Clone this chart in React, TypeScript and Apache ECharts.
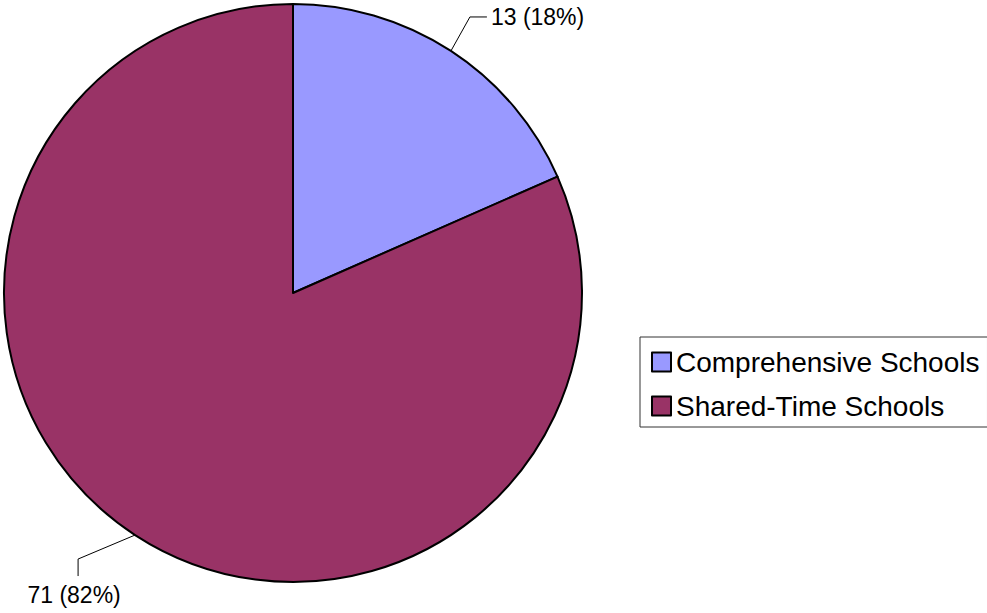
import React, { useEffect, useRef } from "react";
import * as echarts from "echarts";

const categories = ["Comprehensive Schools", "Shared-Time Schools"];
const counts = [13, 71];
const percents = [18, 82];
// slice shares as drawn in the picture
const shares = [18.4, 81.6];
const colors = ["#9999FF", "#993366"];

export default function App() {
  const ref = useRef<HTMLDivElement>(null);
  useEffect(() => {
    document.body.style.margin = "0";
    const chart = echarts.init(ref.current!, undefined, { renderer: "svg" });
    const font = "'Liberation Sans', Arial, sans-serif";
    chart.setOption({
      animation: false,
      backgroundColor: "#fff",
      legend: {
        orient: "vertical",
        left: 640,
        top: 337,
        padding: [10, 8, 6, 11],
        itemGap: 14,
        itemWidth: 19,
        itemHeight: 19,
        borderColor: "#333",
        borderWidth: 1,
        icon: "rect",
        itemStyle: { borderColor: "#000", borderWidth: 2 },
        textStyle: { fontFamily: font, fontSize: 28, color: "#000", lineHeight: 30 },
        data: categories,
      },
      series: [
        {
          type: "pie",
          center: [293, 293],
          radius: 289,
          startAngle: 90,
          clockwise: true,
          itemStyle: { borderColor: "#000", borderWidth: 2 },
          label: {
            show: true,
            position: "outside",
            alignTo: "none",
            overflow: "none",
            width: 200,
            fontFamily: font,
            fontSize: 23,
            color: "#000",
            formatter: (p: any) => `${counts[p.dataIndex]} (${percents[p.dataIndex]}%)`,
          },
          labelLine: { show: true, length: 40, length2: 18, lineStyle: { color: "#000", width: 1 } },
          labelLayout: (params: any) => {
            const pts = params.labelLinePoints;
            if (!pts) return {};
            const s = pts[0];
            if (params.dataIndex === 0) {
              const p1 = [s[0] + 19, s[1] - 34];
              const p2 = [p1[0] + 17, p1[1]];
              return {
                x: p2[0] + 4,
                y: p2[1],
                align: "left",
                verticalAlign: "middle",
                labelLinePoints: [s, p1, p2],
              };
            }
            const p1 = [s[0] - 57, s[1] + 24];
            const p2 = [p1[0], p1[1] + 17];
            return {
              x: p2[0] - 4,
              y: p2[1] + 19,
              align: "center",
              verticalAlign: "middle",
              labelLinePoints: [s, p1, p2],
            };
          },
          data: categories.map((name, i) => ({
            name,
            value: shares[i],
            itemStyle: { color: colors[i] },
          })),
        },
      ],
    });
    return () => chart.dispose();
  }, []);
  return <div ref={ref} style={{ width: 987, height: 613 }} />;
}
